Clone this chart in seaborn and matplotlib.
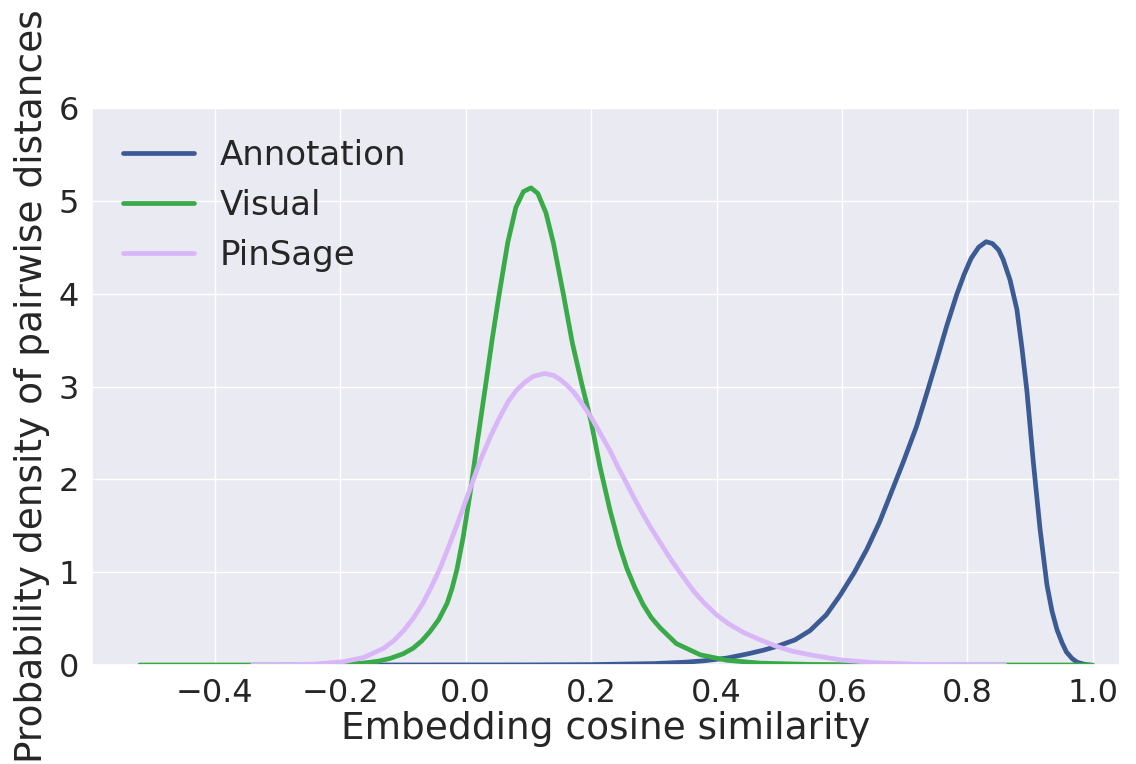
import matplotlib
matplotlib.use("Agg")
import matplotlib.pyplot as plt
import seaborn as sns

# --- data (x = cosine similarity, y = density) ---
annotation_x = [-0.20, 0.10, 0.20, 0.30, 0.35, 0.38, 0.417, 0.45, 0.475, 0.496, 0.525,
                0.549, 0.575, 0.597, 0.62, 0.64, 0.66, 0.677, 0.698, 0.719, 0.735,
                0.751, 0.767, 0.783, 0.795, 0.806, 0.818, 0.83, 0.84, 0.85, 0.857,
                0.868, 0.879, 0.887, 0.895, 0.905, 0.916, 0.927, 0.935, 0.943,
                0.951, 0.958, 0.967, 0.975, 0.985, 0.995]
annotation_y = [0.0, 0.001, 0.004, 0.015, 0.03, 0.045, 0.075, 0.12, 0.16, 0.20, 0.27,
                0.37, 0.54, 0.75, 1.00, 1.25, 1.54, 1.83, 2.19, 2.57, 2.92,
                3.28, 3.65, 3.99, 4.21, 4.38, 4.50, 4.56, 4.54, 4.47, 4.37,
                4.15, 3.83, 3.42, 2.95, 2.20, 1.46, 0.86, 0.58, 0.38,
                0.24, 0.14, 0.07, 0.03, 0.01, 0.0]

visual_x = [-0.52, -0.30, -0.22, -0.19, -0.164, -0.14, -0.121, -0.10, -0.084, -0.07,
            -0.057, -0.043, -0.03, -0.022, -0.014, -0.004, 0.007, 0.018, 0.031,
            0.042, 0.053, 0.067, 0.08, 0.092, 0.104, 0.115, 0.128, 0.14, 0.155,
            0.17, 0.185, 0.20, 0.214, 0.23, 0.245, 0.257, 0.27, 0.283, 0.296,
            0.31, 0.336, 0.374, 0.417, 0.47, 0.55, 0.70, 0.85, 1.0]
visual_y = [0.0, 0.0, 0.003, 0.008, 0.02, 0.04, 0.07, 0.12, 0.18, 0.26,
            0.36, 0.49, 0.66, 0.82, 1.03, 1.38, 1.85, 2.38, 2.98,
            3.50, 3.98, 4.55, 4.93, 5.10, 5.14, 5.08, 4.87, 4.54, 4.02,
            3.47, 3.03, 2.62, 2.14, 1.67, 1.29, 1.04, 0.83, 0.65, 0.51,
            0.40, 0.23, 0.11, 0.05, 0.02, 0.006, 0.0, 0.0, 0.0]

pinsage_x = [-0.34, -0.28, -0.24, -0.195, -0.163, -0.131, -0.115, -0.099, -0.084,
             -0.068, -0.055, -0.041, -0.028, -0.014, 0.007, 0.023, 0.04, 0.055,
             0.068, 0.081, 0.095, 0.108, 0.126, 0.14, 0.15, 0.162, 0.172, 0.182,
             0.20, 0.215, 0.23, 0.243, 0.257, 0.27, 0.283, 0.296, 0.31, 0.323,
             0.336, 0.35, 0.363, 0.38, 0.40, 0.42, 0.443, 0.47, 0.496, 0.52,
             0.549, 0.597, 0.65, 0.72, 0.80, 0.86]
pinsage_y = [0.0, 0.003, 0.01, 0.035, 0.08, 0.18, 0.26, 0.37, 0.50,
             0.67, 0.84, 1.04, 1.26, 1.51, 1.90, 2.20, 2.47, 2.68,
             2.84, 2.96, 3.05, 3.11, 3.14, 3.12, 3.08, 3.01, 2.94, 2.85,
             2.67, 2.49, 2.31, 2.13, 1.95, 1.78, 1.62, 1.47, 1.32, 1.18,
             1.05, 0.92, 0.80, 0.67, 0.54, 0.44, 0.35, 0.27, 0.20, 0.15,
             0.11, 0.055, 0.025, 0.008, 0.002, 0.0]

series = [
    ("Annotation", annotation_x, annotation_y, "#3c5b94"),
    ("Visual", visual_x, visual_y, "#38ab48"),
    ("PinSage", pinsage_x, pinsage_y, "#d8b6f7"),
]

sns.set_theme(style="darkgrid")
plt.rcParams["font.family"] = ["DejaVu Sans"]

fig, ax = plt.subplots(figsize=(11.36, 7.64), dpi=100)
fig.subplots_adjust(left=0.081, right=0.986, bottom=0.1296, top=0.8586)

for name, xs, ys, col in series:
    sns.lineplot(x=xs, y=ys, ax=ax, color=col, lw=3.4, label=name, sort=False,
                 solid_joinstyle="round")

ax.set_xlim(-0.596, 1.0436)
ax.set_ylim(0, 6)
ax.set_xticks([-0.4, -0.2, 0.0, 0.2, 0.4, 0.6, 0.8, 1.0])
ax.set_yticks([0, 1, 2, 3, 4, 5, 6])
ax.tick_params(labelsize=23, colors="#262626")
ax.set_xlabel("Embedding cosine similarity", fontsize=27, color="#262626", labelpad=1)
ax.set_ylabel("Probability density of pairwise distances", fontsize=27,
              color="#262626", labelpad=6)

leg = ax.legend(loc="upper left", fontsize=24.5, frameon=False, handlelength=2.1,
                handletextpad=0.75)
for line in leg.get_lines():
    line.set_linewidth(3.4)

fig.savefig("out.png", dpi=100)
